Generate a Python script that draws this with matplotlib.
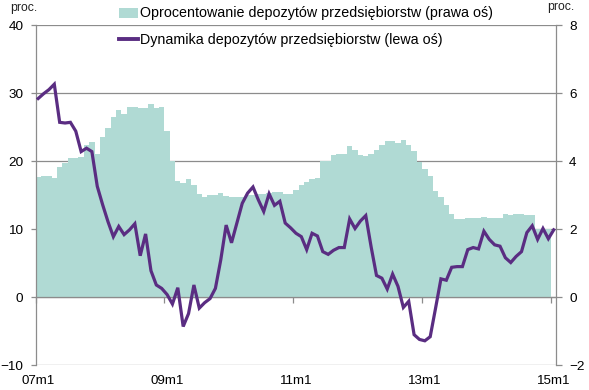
import numpy as np
import matplotlib
matplotlib.use("Agg")
import matplotlib.pyplot as plt
import matplotlib.transforms as mtransforms
from matplotlib.patches import Patch
from matplotlib.lines import Line2D

plt.rcParams['font.family'] = ['Liberation Sans', 'DejaVu Sans']

# ---- data (monthly, 2007m1 .. 2015m1) ----
years = list(range(7, 16))
categories = [f"{y:02d}m{m}" for y in years for m in range(1, 13)][:97]

# Oprocentowanie depozytów przedsiębiorstw (prawa oś), %
deposit_rate = [
    3.54, 3.56, 3.56, 3.50, 3.84, 3.94, 4.10, 4.10, 4.12, 4.46, 4.56, 4.22,
    4.72, 4.96, 5.30, 5.50, 5.38, 5.58, 5.60, 5.56, 5.56, 5.68, 5.56, 5.58,
    4.88, 4.00, 3.42, 3.36, 3.46, 3.30, 3.04, 2.96, 3.00, 3.00, 3.06, 2.98,
    2.94, 2.94, 2.94, 3.00, 3.00, 3.02, 3.02, 3.06, 3.08, 3.08, 3.04, 3.02,
    3.16, 3.30, 3.40, 3.46, 3.50, 4.00, 4.00, 4.18, 4.22, 4.22, 4.44, 4.32,
    4.18, 4.14, 4.20, 4.32, 4.48, 4.58, 4.60, 4.54, 4.62, 4.46, 4.30, 3.96,
    3.76, 3.56, 3.12, 2.94, 2.72, 2.46, 2.30, 2.30, 2.32, 2.32, 2.34, 2.36,
    2.32, 2.34, 2.34, 2.44, 2.42, 2.46, 2.44, 2.42, 2.42, 2.00, 2.00, 2.00,
    np.nan,
]

# Dynamika depozytów przedsiębiorstw (lewa oś), % r/r
deposit_growth = [
    29.2, 29.9, 30.5, 31.3, 25.7, 25.6, 25.7, 24.4, 21.4, 21.9, 21.4, 16.3,
    13.6, 11.1, 8.9, 10.4, 9.2, 9.9, 10.8, 6.1, 9.3, 3.9, 1.8, 1.3,
    0.4, -1.0, 1.4, -4.3, -2.4, 1.8, -1.6, -0.8, -0.2, 1.3, 5.5, 10.6,
    8.0, 10.9, 13.8, 15.3, 16.2, 14.3, 12.6, 15.2, 13.5, 14.1, 10.9, 10.2,
    9.4, 8.9, 7.0, 9.4, 9.0, 6.7, 6.3, 6.9, 7.3, 7.3, 11.5, 10.1,
    11.2, 12.0, 7.4, 3.2, 2.8, 1.2, 3.4, 1.6, -1.5, -0.6, -5.5, -6.2,
    -6.4, -5.8, -1.6, 2.7, 2.5, 4.4, 4.5, 4.5, 7.0, 7.3, 7.1, 9.7,
    8.5, 7.7, 7.5, 5.8, 5.1, 6.0, 6.7, 9.5, 10.5, 8.5, 10.1, 8.6,
    9.9,
]

tick_labels = ["07m1", "09m1", "11m1", "13m1", "15m1"]
left_ticks = [-10, 0, 10, 20, 30, 40]
right_ticks = [-2, 0, 2, 4, 6, 8]

label_bar = "Oprocentowanie depozytów przedsiębiorstw (prawa oś)"
label_line = "Dynamika depozytów przedsiębiorstw (lewa oś)"

TEAL = "#B0DAD4"
PURPLE = "#5A2D82"
GRID = "#8C8C8C"

# ---- figure ----
W, H = 589, 390
fig = plt.figure(figsize=(W / 100, H / 100), dpi=100)
ax = fig.add_axes([35.5 / W, 1 - 365.3 / H, (556.4 - 35.5) / W, (365.3 - 25) / H])
ax2 = ax.twinx()

n = len(categories)
xc = np.arange(n) + 0.5

# bars on right axis (drawn below)
ax2.bar(xc, deposit_rate, width=1.0, color=TEAL, linewidth=0, zorder=2)
ax2.set_ylim(-2, 8)
ax2.set_yticks(right_ticks)
ax2.set_axisbelow(True)
ax2.grid(axis='y', color=GRID, linewidth=0.9)
ax2.grid(axis='x', visible=False)

# line on left axis (drawn above)
ax.set_zorder(ax2.get_zorder() + 1)
ax.patch.set_visible(False)
ax.plot(xc, deposit_growth, color=PURPLE, linewidth=2.3, zorder=4,
        solid_joinstyle='miter')
ax.set_ylim(-10, 40)
ax.set_yticks(left_ticks)
ax.set_xlim(0, n)

# category axis crossing at 0
ax.spines['bottom'].set_position(('data', 0))
ax.spines['bottom'].set_color(GRID)
ax.spines['bottom'].set_linewidth(0.9)
tick_idx = [categories.index(t) for t in tick_labels]
ax.set_xticks(tick_idx)
ax.set_xticklabels([])
ax.tick_params(axis='x', direction='out', length=4, width=0.9, color=GRID)

for s in ['top', 'right']:
    ax.spines[s].set_visible(False)
ax.spines['left'].set_color(GRID)
ax.spines['left'].set_linewidth(0.9)
for s in ['top', 'left', 'bottom']:
    ax2.spines[s].set_visible(False)
ax2.spines['right'].set_color(GRID)
ax2.spines['right'].set_linewidth(0.9)

ax.tick_params(axis='y', direction='out', length=3.8, width=0.9, color=GRID,
               labelsize=9.7, pad=5, labelcolor='black')
ax2.tick_params(axis='y', direction='out', length=4.2, width=0.9, color=GRID,
                labelsize=9.7, pad=5, labelcolor='black')

# category labels below plot, centred on the category
trans = mtransforms.blended_transform_factory(ax.transData, fig.transFigure)
for t, i in zip(tick_labels, tick_idx):
    ax.text(i + 0.5, 1 - 381.5 / H, t, transform=trans, ha='center', va='center',
            fontsize=9.6)

# unit labels
fig.text(10 / W, 1 - 8 / H, "proc.", ha='left', va='center', fontsize=8.8,
         color='#222222')
fig.text(547 / W, 1 - 7 / H, "proc.", ha='left', va='center', fontsize=8.8,
         color='#222222')

# legend
handles = [Patch(facecolor=TEAL, edgecolor='none'),
           Line2D([0], [0], color=PURPLE, linewidth=2.8)]
fig.legend(handles, [label_bar, label_line], loc='upper left',
           bbox_to_anchor=(119 / W, 1 - 6.5 / H), frameon=False,
           fontsize=10.25, borderpad=0, borderaxespad=0, handlelength=1.3,
           handletextpad=0.15, labelspacing=0.9)

fig.savefig("out.png", dpi=100)
